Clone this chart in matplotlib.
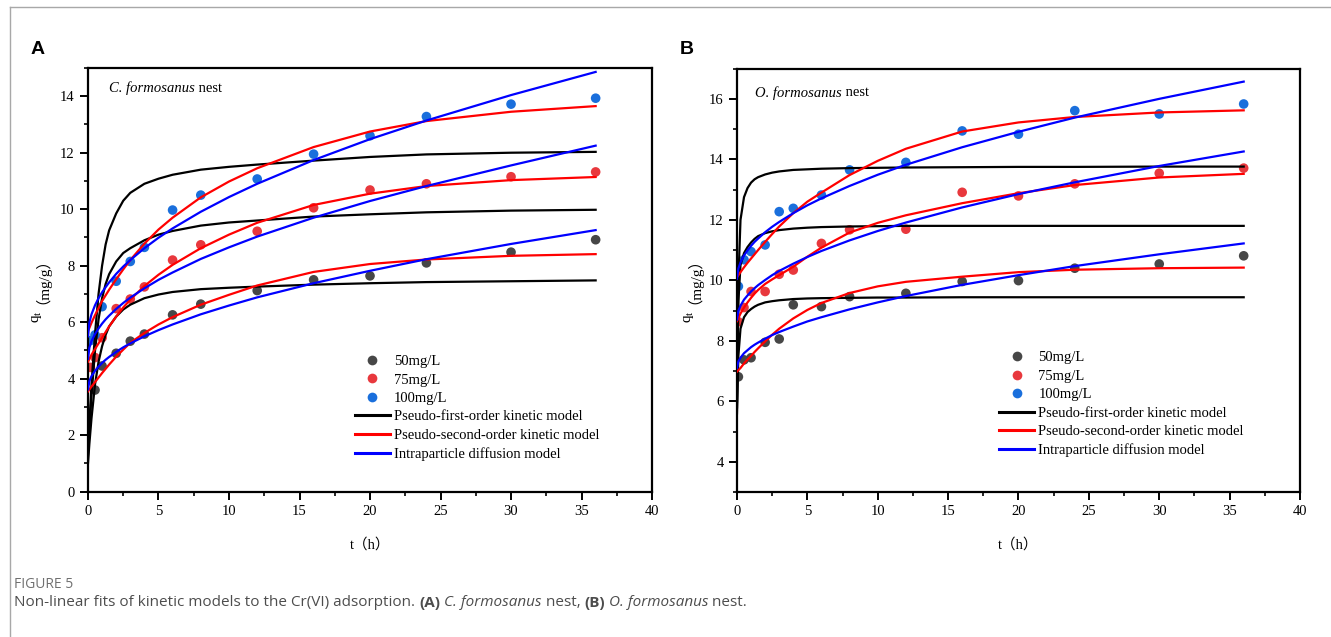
import numpy as np
import matplotlib
matplotlib.use('Agg')
import matplotlib.pyplot as plt
from matplotlib.lines import Line2D
from matplotlib.ticker import MultipleLocator

plt.rcParams['font.family'] = ['Liberation Serif', 'Noto Sans CJK SC']
plt.rcParams['mathtext.fontset'] = 'custom'
plt.rcParams['mathtext.rm'] = 'Liberation Serif'
plt.rcParams['mathtext.it'] = 'Liberation Serif:italic'

W, H = 1331, 637

# measured time points (h)
t_a = [0.17, 0.5, 1, 2, 3, 4, 6, 8, 12, 16, 20, 24, 30, 36]
t_b = [0.1, 0.5, 1, 2, 3, 4, 6, 8, 12, 16, 20, 24, 30, 36]

# panel A: C. formosanus nest, measured q_t (first 50mg/L point hidden under the fits)
a_50 = [np.nan, 3.6, 4.45, 4.9, 5.33, 5.58, 6.26, 6.64, 7.12, 7.5, 7.64, 8.1, 8.48, 8.92]
a_75 = [4.4, 4.75, 5.45, 6.48, 6.82, 7.25, 8.2, 8.74, 9.22, 10.05, 10.68, 10.9, 11.15, 11.32]
a_100 = [5.35, 5.55, 6.55, 7.45, 8.15, 8.65, 9.97, 10.5, 11.07, 11.95, 12.6, 13.28, 13.72, 13.93]

# panel B: O. formosanus nest, measured q_t
b_50 = [6.81, 7.37, 7.44, 7.95, 8.06, 9.19, 9.13, 9.46, 9.57, 9.96, 9.99, 10.4, 10.54, 10.81]
b_75 = [8.63, 9.1, 9.63, 9.63, 10.2, 10.34, 11.22, 11.67, 11.69, 12.91, 12.79, 13.19, 13.54, 13.71]
b_100 = [9.8, 10.68, 10.95, 11.17, 12.27, 12.38, 12.82, 13.65, 13.9, 14.94, 14.83, 15.61, 15.5, 15.83]

# model curves at these times
t_fit = [0, 0.1, 0.25, 0.5, 0.75, 1, 1.25, 1.5, 2, 2.5, 3, 4, 5, 6, 8, 10, 12, 16, 20, 24, 30, 36]

a_pfo_50 = [1.0, 1.7, 2.6, 3.8, 4.6, 5.15, 5.55, 5.85, 6.2, 6.45, 6.62, 6.85, 6.98, 7.07, 7.17, 7.22, 7.26, 7.33, 7.38, 7.42, 7.45, 7.48]
a_pfo_75 = [1.3, 2.2, 3.4, 5.0, 6.1, 6.85, 7.35, 7.7, 8.15, 8.45, 8.62, 8.9, 9.1, 9.23, 9.42, 9.53, 9.6, 9.74, 9.82, 9.89, 9.95, 9.98]
a_pfo_100 = [1.6, 2.4, 3.8, 5.6, 7.0, 8.0, 8.75, 9.25, 9.85, 10.3, 10.58, 10.9, 11.08, 11.22, 11.4, 11.5, 11.58, 11.72, 11.85, 11.94, 12.0, 12.03]
a_pso_50 = [3.55, 3.62, 3.72, 3.88, 4.04, 4.2, 4.35, 4.5, 4.78, 5.03, 5.27, 5.62, 5.92, 6.18, 6.62, 6.97, 7.3, 7.78, 8.06, 8.22, 8.35, 8.41]
a_pso_75 = [4.6, 4.7, 4.85, 5.05, 5.25, 5.45, 5.65, 5.85, 6.2, 6.52, 6.8, 7.28, 7.68, 8.03, 8.62, 9.1, 9.52, 10.15, 10.55, 10.82, 11.03, 11.14]
a_pso_100 = [5.7, 5.8, 5.98, 6.25, 6.5, 6.75, 6.95, 7.15, 7.52, 7.87, 8.2, 8.78, 9.28, 9.7, 10.42, 10.98, 11.45, 12.2, 12.75, 13.12, 13.45, 13.65]
a_ipd_50 = [3.62, 3.92, 4.09, 4.28, 4.43, 4.56, 4.67, 4.77, 4.95, 5.11, 5.25, 5.5, 5.72, 5.92, 6.28, 6.59, 6.88, 7.38, 7.82, 8.23, 8.77, 9.26]
a_ipd_75 = [4.7, 5.1, 5.33, 5.58, 5.78, 5.95, 6.1, 6.23, 6.47, 6.68, 6.87, 7.2, 7.5, 7.76, 8.24, 8.65, 9.03, 9.7, 10.29, 10.82, 11.55, 12.25]
a_ipd_100 = [5.5, 5.99, 6.28, 6.6, 6.85, 7.06, 7.24, 7.41, 7.71, 7.97, 8.2, 8.62, 8.99, 9.32, 9.91, 10.43, 10.9, 11.74, 12.48, 13.14, 14.04, 14.86]

b_pfo_50 = [5.6, 7.5, 8.4, 8.78, 8.95, 9.05, 9.13, 9.19, 9.27, 9.31, 9.34, 9.38, 9.4, 9.41, 9.42, 9.43, 9.43, 9.44, 9.44, 9.44, 9.44, 9.44]
b_pfo_75 = [5.8, 9.3, 10.5, 10.9, 11.1, 11.25, 11.37, 11.46, 11.56, 11.62, 11.66, 11.71, 11.74, 11.76, 11.78, 11.79, 11.8, 11.8, 11.8, 11.8, 11.8, 11.8]
b_pfo_100 = [6.0, 10.0, 12.0, 12.75, 13.05, 13.23, 13.34, 13.41, 13.5, 13.56, 13.6, 13.65, 13.67, 13.69, 13.71, 13.72, 13.73, 13.74, 13.75, 13.75, 13.76, 13.76]
b_pso_50 = [6.98, 7.03, 7.1, 7.25, 7.38, 7.5, 7.63, 7.75, 7.98, 8.2, 8.4, 8.74, 9.02, 9.25, 9.58, 9.8, 9.95, 10.12, 10.27, 10.35, 10.4, 10.42]
b_pso_75 = [8.65, 8.75, 8.9, 9.1, 9.27, 9.42, 9.56, 9.68, 9.88, 10.03, 10.17, 10.45, 10.78, 11.08, 11.58, 11.9, 12.15, 12.55, 12.88, 13.15, 13.4, 13.52]
b_pso_100 = [10.1, 10.17, 10.27, 10.43, 10.58, 10.72, 10.86, 11.0, 11.27, 11.53, 11.78, 12.22, 12.6, 12.9, 13.48, 13.95, 14.35, 14.92, 15.22, 15.4, 15.55, 15.62]
b_ipd_50 = [7.1, 7.32, 7.44, 7.59, 7.69, 7.79, 7.87, 7.94, 8.07, 8.19, 8.29, 8.47, 8.64, 8.78, 9.04, 9.27, 9.48, 9.85, 10.17, 10.47, 10.86, 11.22]
b_ipd_75 = [8.7, 8.99, 9.16, 9.36, 9.5, 9.63, 9.74, 9.84, 10.01, 10.17, 10.31, 10.55, 10.77, 10.97, 11.32, 11.63, 11.91, 12.41, 12.85, 13.24, 13.78, 14.26]
b_ipd_100 = [10.05, 10.39, 10.59, 10.82, 10.99, 11.14, 11.27, 11.38, 11.59, 11.77, 11.93, 12.22, 12.48, 12.71, 13.12, 13.49, 13.82, 14.4, 14.91, 15.38, 16.0, 16.57]

conc_labels = ['50mg/L', '75mg/L', '100mg/L']
model_labels = ['Pseudo-first-order kinetic model',
                'Pseudo-second-order kinetic model',
                'Intraparticle diffusion model']
dot_colors = ['#474747', '#e8383d', '#1a6fdc']
line_colors = ['#000000', '#ff0000', '#0000ff']

FS = 10.5

fig = plt.figure(figsize=(W / 100, H / 100), dpi=100)
renderer = fig.canvas.get_renderer()


def seq_text(x_px, y_px, pieces, **kw):
  # writes pieces of differently styled text one after another
  for txt, weight, style in pieces:
    tt = fig.text(x_px / W, 1 - y_px / H, txt, fontweight=weight,
                  fontstyle=style, va='center', ha='left', **kw)
    x_px += tt.get_window_extent(renderer=renderer).width


def draw_panel(rect, t, points, fits, ylim, yticks, name, name_px, leg_xy, ylab_x):
  ax = fig.add_axes(rect)
  for vals, c in zip(points, dot_colors):
    ax.scatter(t, vals, s=48, color=c, edgecolors='none', zorder=2)
  for group, c in zip(fits, line_colors):
    for vals in group:
      ax.plot(t_fit, vals, color=c, lw=1.6, zorder=3)
  ax.set_xlim(0, 40)
  ax.set_ylim(*ylim)
  ax.set_xticks(np.arange(0, 41, 5))
  ax.set_yticks(yticks)
  ax.xaxis.set_minor_locator(MultipleLocator(2.5))
  ax.yaxis.set_minor_locator(MultipleLocator(1))
  ax.tick_params(which='major', direction='out', length=6, width=1.4, labelsize=FS,
                 top=False, right=False)
  ax.tick_params(which='minor', direction='out', length=3, width=1.2,
                 top=False, right=False)
  for s in ax.spines.values():
    s.set_linewidth(1.6)
  ax.set_xlabel('t（h）', fontsize=FS, labelpad=14)

  # y label drawn in two parts so the subscript and the wide brackets both render
  y0 = 323
  q = fig.text(ylab_x / W, 1 - y0 / H, 'q$_\\mathregular{t}$', fontsize=11,
               rotation=90, ha='center', va='bottom')
  y0 -= q.get_window_extent(renderer=renderer).height + 6
  fig.text((ylab_x - 3) / W, 1 - y0 / H, '（mg/g）', fontsize=11,
           rotation=90, ha='center', va='bottom')

  seq_text(name_px[0], name_px[1],
           [(name, 'normal', 'italic'), (' nest', 'normal', 'normal')],
           fontsize=FS)

  handles = [Line2D([], [], ls='none', marker='o', ms=7, color=c, mec='none')
             for c in dot_colors]
  handles += [Line2D([], [], color=c, lw=2.2) for c in line_colors]
  ax.legend(handles, conc_labels + model_labels, loc='upper left',
            bbox_to_anchor=leg_xy, frameon=False, fontsize=FS,
            borderpad=0, borderaxespad=0, handlelength=2.4,
            handletextpad=0.3, labelspacing=0.36)
  return ax


ax_a = draw_panel([0.0661, 0.2281, 0.4238, 0.6652], t_a,
                  [a_50, a_75, a_100],
                  [[a_pfo_50, a_pfo_75, a_pfo_100],
                   [a_pso_50, a_pso_75, a_pso_100],
                   [a_ipd_50, a_ipd_75, a_ipd_100]],
                  (0, 15), np.arange(0, 15, 2),
                  'C. formosanus', (109, 88), (0.473, 0.323), 37)

ax_b = draw_panel([0.5537, 0.2276, 0.4230, 0.6647], t_b,
                  [b_50, b_75, b_100],
                  [[b_pfo_50, b_pfo_75, b_pfo_100],
                   [b_pso_50, b_pso_75, b_pso_100],
                   [b_ipd_50, b_ipd_75, b_ipd_100]],
                  (3, 17), np.arange(4, 17, 2),
                  'O. formosanus', (755, 93), (0.4654, 0.333), 689)

# panel letters
fig.text(38 / W, 1 - 50 / H, 'A', fontsize=14, fontweight='bold',
         family='Liberation Sans', ha='center', va='center')
fig.text(687 / W, 1 - 50 / H, 'B', fontsize=14, fontweight='bold',
         family='Liberation Sans', ha='center', va='center')

# frame lines of the figure box
fig.add_artist(Line2D([10 / W, 10 / W], [0, 1 - 7 / H],
                      transform=fig.transFigure, color='#a8a8a8', lw=1))
fig.add_artist(Line2D([10 / W, 1], [1 - 7 / H, 1 - 7 / H],
                      transform=fig.transFigure, color='#a8a8a8', lw=1))

# caption
fig.text(14 / W, 1 - 585 / H, 'FIGURE 5', fontsize=10, color='#707070',
         family='Open Sans', va='center', ha='left')
seq_text(14, 603,
         [('Non-linear fits of kinetic models to the Cr(VI) adsorption. ', 'normal', 'normal'),
          ('(A)', 'bold', 'normal'),
          (' ', 'normal', 'normal'),
          ('C. formosanus', 'normal', 'italic'),
          (' nest, ', 'normal', 'normal'),
          ('(B)', 'bold', 'normal'),
          (' ', 'normal', 'normal'),
          ('O. formosanus', 'normal', 'italic'),
          (' nest.', 'normal', 'normal')],
         fontsize=11, color='#4d4d4d', family='Open Sans')

fig.savefig('out.png', dpi=100)
